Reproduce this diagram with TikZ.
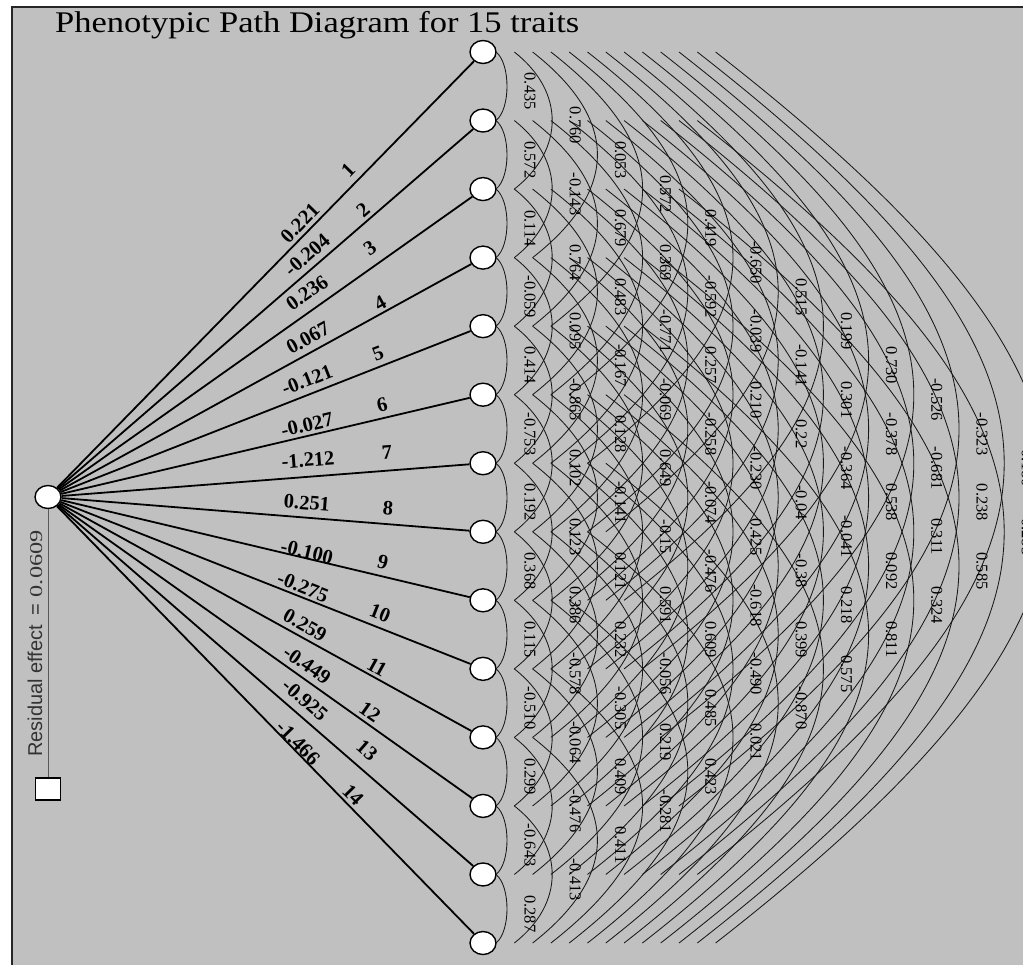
\documentclass[tikz,border=0pt]{standalone}
\usepackage{fontspec}
\setmainfont{Liberation Serif}
\newfontfamily\sansf{Liberation Sans}
\usetikzlibrary{shapes.geometric}
\definecolor{bg}{RGB}{192,192,192}
\definecolor{arcc}{RGB}{25,25,25}
\tikzset{
  trait/.style={ellipse, draw=black, line width=1.4pt, fill=white, minimum width=26pt, minimum height=23pt, inner sep=0pt},
  resbox/.style={rectangle, draw=black, line width=1.2pt, fill=white, minimum width=25pt, minimum height=22pt, inner sep=0pt},
  pathline/.style={line width=1.8pt, black},
  resline/.style={line width=0.9pt, black!65},
  corrarc/.style={line width=0.85pt, arcc},
  corrlab/.style={font=\fontsize{16.5}{17}\selectfont, rotate=-90, inner sep=0pt},
  coeflab/.style={font=\fontsize{20.5}{22}\selectfont\bfseries, inner sep=0pt},
  frame/.style={fill=bg, draw=black!85, line width=2pt}
}
\newcommand\corrlabel[3]{%
  \pgfmathsetmacro\lx{530+(#1-1)*45.2}%
  \pgfmathsetmacro\ly{52+(#2-1)*68.54+#1*34.27+5}%
  \node[corrlab] (c#2-#1) at (\lx,\ly) {#3};}
\begin{document}
\begin{tikzpicture}[x=1pt,y=-1pt]
\path[use as bounding box] (0,0) rectangle (1023,965);
\begin{scope}
\clip (0,0) rectangle (1023,965);
\fill[white] (0,0) rectangle (1023,965);
\draw[frame] (12,7) rectangle (1060,1000);
% title
\node[anchor=base west, inner sep=0pt] (title) at (55,33)
  {\fontsize{30}{32}\selectfont\scalebox{1.15}[1]{Phenotypic Path Diagram for 15 traits}};
% trait nodes
\foreach \k in {1,...,14}
  \node[trait] (R\k) at (483,{52+(\k-1)*68.54}) {};
\node[trait] (L) at (48,497) {};
\node[resbox] (S) at (48,789) {};
\draw[resline] (L) -- (S);
\node[rotate=90, anchor=west, inner sep=0pt, text=black!80] (res) at (35,757)
  {\fontsize{20}{22}\sansf Residual effect\hspace{9pt}=\hspace{7pt}{\fontsize{18}{20}\rmfamily\scalebox{1.35}[1]{0.0609}}};
% path lines
\foreach \k in {1,...,14}
  \draw[pathline] (L) -- (R\k);
% correlation arcs
\foreach \i in {1,...,13}{
  \pgfmathtruncatemacro\ip{\i+1}
  \foreach \j in {\ip,...,14}{
    \pgfmathsetmacro\dd{\j-\i}
    \pgfmathsetmacro\xo{13+(\dd-1)*18.3}
    \pgfmathsetmacro\cx{(11+(\dd-1)*26.9)/0.75}
    \pgfmathsetmacro\cy{\cx*0.781}
    \draw[corrarc] ([xshift=\xo pt]R\i.center) .. controls +(\cx,\cy) and +(\cx,-\cy) .. ([xshift=\xo pt]R\j.center);
  }
}
% correlation labels
\foreach[count=\i] \v in {0.435,0.572,0.114,-0.059,0.414,-0.753,0.192,0.368,0.115,-0.510,0.299,-0.643,0.287}{\corrlabel{1}{\i}{\v}}
\foreach[count=\i] \v in {0.760,-0.143,0.764,0.095,-0.865,0.102,0.123,0.386,-0.578,-0.064,-0.476,-0.413}{\corrlabel{2}{\i}{\v}}
\foreach[count=\i] \v in {0.053,0.679,0.483,-0.167,0.128,-0.141,0.121,0.232,-0.305,0.409,0.411}{\corrlabel{3}{\i}{\v}}
\foreach[count=\i] \v in {0.572,0.369,-0.771,-0.069,0.649,-0.15,0.591,-0.056,0.219,-0.281}{\corrlabel{4}{\i}{\v}}
\foreach[count=\i] \v in {0.419,-0.592,0.257,-0.258,-0.074,-0.476,0.609,0.485,0.423}{\corrlabel{5}{\i}{\v}}
\foreach[count=\i] \v in {-0.650,-0.039,0.210,-0.230,0.425,-0.618,-0.490,0.021}{\corrlabel{6}{\i}{\v}}
\foreach[count=\i] \v in {0.515,-0.141,0.22,-0.04,-0.38,0.399,-0.870}{\corrlabel{7}{\i}{\v}}
\foreach[count=\i] \v in {0.199,0.301,-0.364,-0.041,0.218,0.575}{\corrlabel{8}{\i}{\v}}
\foreach[count=\i] \v in {0.730,-0.378,0.538,0.092,0.811}{\corrlabel{9}{\i}{\v}}
\foreach[count=\i] \v in {-0.526,-0.681,0.311,0.324}{\corrlabel{10}{\i}{\v}}
\foreach[count=\i] \v in {-0.323,0.238,0.585}{\corrlabel{11}{\i}{\v}}
\foreach[count=\i] \v in {0.180,0.283}{\corrlabel{12}{\i}{\v}}
% path coefficients
\foreach \k/\x/\y/\a/\t in {1/300/223/45.65/0.221, 2/307/255/40.88/-0.204, 3/307/293/35.29/0.236,
   4/308/338/28.83/0.067, 5/307/380/21.43/-0.121, 6/307/425/13.23/-0.027, 7/308/460/4.44/-1.212,
   8/307/503/-4.57/0.251, 9/307/552/-13.36/-0.100, 10/303/587/-21.56/-0.275, 11/305/625/-28.93/0.259,
   12/307/665/-35.38/-0.449, 13/305/700/-40.95/-0.925, 14/298/743/-45.72/-1.466}
  \node[coeflab, rotate=\a] (p\k) at (\x,\y) {\t};
\foreach \k/\x/\y/\a in {1/348/170/45.65, 2/363/210/40.88, 3/370/248/35.29, 4/380/303/28.83,
   5/378/353/21.43, 6/382/405/13.23, 7/387/452/4.44, 8/388/508/-4.57, 9/383/562/-13.36,
   10/380/613/-21.56, 11/377/667/-28.93, 12/370/712/-35.38, 13/367/750/-40.95, 14/353/795/-45.72}
  \node[coeflab, rotate=\a] (n\k) at (\x,\y) {\k};
\end{scope}
\end{tikzpicture}
\end{document}
